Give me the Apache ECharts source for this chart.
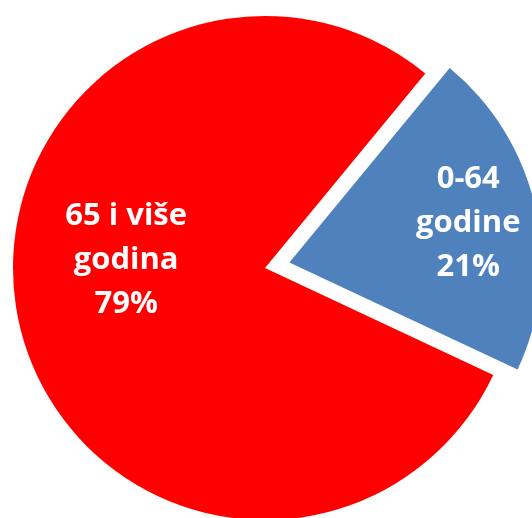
<!DOCTYPE html>
<html>
<head>
<meta charset="utf-8">
<script src="https://cdn.jsdelivr.net/npm/echarts@6/dist/echarts.min.js"></script>
<style>
html,body{margin:0;padding:0;background:#fff;}
#chart{width:532px;height:518px;}
</style>
</head>
<body>
<div id="chart"></div>
<script>
var categories = ['0-64\ngodine', '65 i više\ngodina'];
var values = [21, 79];
var colors = ['#4F81BD', '#FF0000'];
var labelShift = [[53, -11], [-13, -36]];

var chart = echarts.init(document.getElementById('chart'), null, {renderer: 'canvas'});
var data = categories.map(function (c, i) {
  return {
    name: c,
    value: values[i],
    selected: i === 0,
    itemStyle: {color: colors[i]}
  };
});
chart.setOption({
  animation: false,
  series: [{
    type: 'pie',
    center: [265, 268],
    radius: [0, 252],
    startAngle: 50.5,
    clockwise: true,
    selectedMode: 'single',
    selectedOffset: 25,
    avoidLabelOverlap: false,
    data: data,
    label: {
      show: true,
      position: 'inside',
      formatter: '{b}\n{c}%',
      color: '#fff',
      fontFamily: 'Open Sans',
      fontWeight: 'bold',
      fontSize: 31,
      lineHeight: 44,
      align: 'center'
    },
    labelLayout: function (params) {
      var s = labelShift[params.dataIndex];
      return {dx: s[0], dy: s[1]};
    },
    labelLine: {show: false},
    itemStyle: {borderWidth: 0},
    emphasis: {disabled: true}
  }]
});
</script>
</body>
</html>
